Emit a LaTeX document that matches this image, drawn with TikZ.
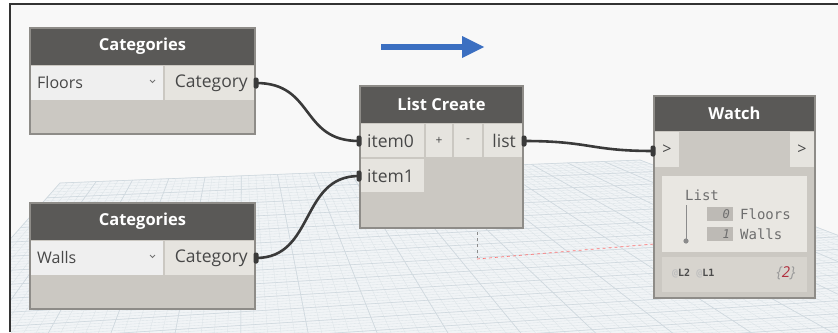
\documentclass[tikz,border=0pt]{standalone}
\usepackage{fontspec}
\setmainfont{Open Sans}
\newfontfamily\wmono{DejaVu Sans Mono}
\usetikzlibrary{calc}
\definecolor{hdr}{HTML}{5A5957}
\definecolor{body}{HTML}{CBC8C2}
\definecolor{port}{HTML}{E6E4DF}
\definecolor{drop}{HTML}{EFEFEF}
\definecolor{edge}{HTML}{8E8C88}
\definecolor{wirec}{HTML}{3A3A3A}
\definecolor{bg}{HTML}{F8F8F8}
\definecolor{arrowblue}{HTML}{3B6FC1}
\definecolor{planec}{HTML}{F1F4F6}
\definecolor{gridc}{HTML}{DDE4E8}
\definecolor{gridm}{HTML}{D0D9DF}
\definecolor{panel}{HTML}{E9E7E2}
\definecolor{footc}{HTML}{D7D4CE}
\definecolor{idxc}{HTML}{BDBAB5}
\definecolor{wtxt}{HTML}{6E6E6E}
\definecolor{redc}{HTML}{B0303E}
\tikzset{
 nodebody/.style={fill=body, inner sep=0pt, outer sep=0pt, anchor=north west},
 nodeframe/.style={draw=edge, line width=1.2pt},
 header/.style={fill=hdr, inner sep=0pt, outer sep=0pt, anchor=north west},
 title/.style={text=white, font=\bfseries\fontsize{16.5}{18}\selectfont, inner sep=0pt},
 portbox/.style={fill=port, inner sep=0pt, outer sep=0pt, anchor=north west},
 dropbox/.style={fill=drop, inner sep=0pt, outer sep=0pt, anchor=north west},
 droptext/.style={text=black!72, font=\fontsize{16}{18}\selectfont, inner sep=0pt},
 porttext/.style={text=black!72, font=\fontsize{17.5}{19}\selectfont, inner sep=0pt},
 smalltext/.style={text=black!72, font=\fontsize{12}{14}\selectfont, inner sep=0pt},
 nub/.style={fill=wirec, inner sep=0pt, minimum width=5pt, minimum height=11pt, rounded corners=2pt},
 wire/.style={draw=wirec, line width=2.6pt},
 chev/.style={draw=black!55, line width=0.8pt},
 wtext/.style={text=wtxt, font=\wmono\fontsize{14}{16}\selectfont, inner sep=0pt},
 idxbox/.style={fill=idxc, inner sep=0pt, outer sep=0pt, anchor=north west, minimum width=26pt, minimum height=14pt},
 idxtext/.style={text=wtxt, font=\wmono\itshape\fontsize{12}{14}\selectfont, inner sep=0pt},
 gridline/.style={draw=gridc, line width=0.35pt},
 gridmajor/.style={draw=gridm, line width=0.6pt},
}
\begin{document}
\begin{tikzpicture}[x=1pt,y=-1pt]
\useasboundingbox (0,0) rectangle (838,332);
\fill[white] (0,0) rectangle (838,332);
\fill[bg] (10,4) rectangle (838,332);
% ground grid
\begin{scope}
\clip (11,5) rectangle (838,332);
\coordinate (GA) at (60,183);
\coordinate (GB) at (640,160);
\coordinate (GC) at (1100,335);
\coordinate (GD) at (-150,420);
\fill[planec] (GA)--(GB)--(GC)--(GD)--cycle;
\foreach \i [evaluate=\i as \t using \i/80] in {0,...,80}{
  \draw[gridline] ($(GA)!\t!(GB)$) -- ($(GD)!\t!(GC)$);
  \draw[gridline] ($(GA)!\t!(GD)$) -- ($(GB)!\t!(GC)$);
}
\foreach \i [evaluate=\i as \t using \i/16] in {0,...,16}{
  \draw[gridmajor] ($(GA)!\t!(GB)$) -- ($(GD)!\t!(GC)$);
  \draw[gridmajor] ($(GA)!\t!(GD)$) -- ($(GB)!\t!(GC)$);
}
\end{scope}
\draw[black!45, dashed, line width=0.8pt] (477,232) -- (477,258);
\draw[red!55, dashed, line width=0.7pt] (477,259) -- (654,244);
% frame
\draw[black!80, line width=2pt] (10,332) -- (10,4) -- (838,4);
% blue arrow
\draw[arrowblue, line width=6pt] (381,47) -- (466,47);
\fill[arrowblue] (462,36) -- (484,47) -- (462,58) -- cycle;

% ---------- Categories 1 ----------
\node[nodebody, minimum width=225pt, minimum height=106pt] (cat1) at (30,28) {};
\node[header, minimum width=225pt, minimum height=37pt] (cat1h) at (30,28) {};
\node[title] (cat1t) at (cat1h.center) {Categories};
\node[dropbox, minimum width=132pt, minimum height=34pt] (cat1d) at (31,66) {};
\node[droptext, anchor=west] (cat1dt) at (37,82) {Floors};
\draw[chev] (150,80) -- (152.5,82.5) -- (155,80);
\node[portbox, minimum width=89pt, minimum height=34pt] (cat1p) at (165,66) {};
\node[porttext, anchor=east] (cat1pt) at (248,83) {Category};
\draw[nodeframe] (cat1.north west) rectangle (cat1.south east);
\node[nub] (cat1o) at (256,83) {};

% ---------- Categories 2 ----------
\node[nodebody, minimum width=225pt, minimum height=106pt] (cat2) at (30,203) {};
\node[header, minimum width=225pt, minimum height=37pt] (cat2h) at (30,203) {};
\node[title] (cat2t) at (cat2h.center) {Categories};
\node[dropbox, minimum width=132pt, minimum height=34pt] (cat2d) at (31,241) {};
\node[droptext, anchor=west] (cat2dt) at (37,257) {Walls};
\draw[chev] (150,255) -- (152.5,257.5) -- (155,255);
\node[portbox, minimum width=89pt, minimum height=34pt] (cat2p) at (165,241) {};
\node[porttext, anchor=east] (cat2pt) at (248,258) {Category};
\draw[nodeframe] (cat2.north west) rectangle (cat2.south east);
\node[nub] (cat2o) at (256,258) {};

% ---------- List Create ----------
\node[nodebody, minimum width=163pt, minimum height=142pt] (lc) at (360,86) {};
\node[header, minimum width=163pt, minimum height=37pt] (lch) at (360,86) {};
\node[title] (lct) at (lch.center) {List Create};
\node[portbox, minimum width=63pt, minimum height=33pt] (lci0) at (361,124) {};
\node[porttext, anchor=west] (lci0t) at (367,141) {item0};
\node[portbox, minimum width=26pt, minimum height=33pt] (lcplus) at (426,124) {};
\node[smalltext] (lcplust) at (lcplus.center) {+};
\node[portbox, minimum width=28pt, minimum height=33pt] (lcminus) at (454,124) {};
\node[smalltext] (lcminust) at (lcminus.center) {-};
\node[portbox, minimum width=38pt, minimum height=33pt] (lcout) at (484,124) {};
\node[porttext, anchor=east] (lcoutt) at (516,141) {list};
\node[portbox, minimum width=63pt, minimum height=33pt] (lci1) at (361,159) {};
\node[porttext, anchor=west] (lci1t) at (367,176) {item1};
\draw[nodeframe] (lc.north west) rectangle (lc.south east);
\node[nub] (lcin0) at (359,141) {};
\node[nub] (lcin1) at (359,176) {};
\node[nub] (lco) at (524,141) {};

% ---------- Watch ----------
\node[nodebody, minimum width=161pt, minimum height=202pt] (wa) at (654,96) {};
\node[header, minimum width=161pt, minimum height=35pt] (wah) at (654,96) {};
\node[title] (wat) at (wah.center) {Watch};
\node[portbox, minimum width=24pt, minimum height=35pt] (wal) at (655,132) {};
\node[droptext] (walt) at (wal.center) {>};
\node[portbox, minimum width=24pt, minimum height=35pt] (war) at (790,132) {};
\node[droptext] (wart) at (war.center) {>};
\node[portbox, fill=panel, minimum width=145pt, minimum height=76pt] (wap) at (662,176) {};
\node[portbox, fill=footc, minimum width=145pt, minimum height=35pt] (waf) at (662,257) {};
\node[wtext, anchor=base west] (wlist) at (685,200) {List};
\draw[wtxt!80, line width=0.8pt] (686,205) -- (686,240);
\fill[wtxt!80] (686,241) circle (2.6);
\node[idxbox] (wi0) at (707,207) {};
\node[idxtext, anchor=east] (wi0t) at (730,214) {0};
\node[wtext, anchor=west] (wf) at (740,214) {Floors};
\node[idxbox] (wi1) at (707,227) {};
\node[idxtext, anchor=east] (wi1t) at (730,234) {1};
\node[wtext, anchor=west] (ww) at (740,234) {Walls};
\node[text=black!70, font=\wmono\bfseries\fontsize{10}{12}\selectfont, inner sep=0pt, anchor=west] (wlev) at (672,274) {{\color{black!25}@}L2 {\color{black!25}@}L1};
\node[font=\itshape\fontsize{15}{17}\selectfont, inner sep=0pt] (wcount) at (786,273) {{\color{black!40}\{}{\color{redc}2}{\color{black!40}\}}};
\draw[nodeframe] (wa.north west) rectangle (wa.south east);
\node[nub] (wain) at (653,151) {};

% ---------- wires ----------
\draw[wire] (cat1o.center) .. controls (315,83) and (300,141) .. (lcin0.center);
\draw[wire] (cat2o.center) .. controls (315,258) and (300,176) .. (lcin1.center);
\draw[wire] (lco.center) .. controls (590,141) and (590,151) .. (wain.center);
\end{tikzpicture}
\end{document}
